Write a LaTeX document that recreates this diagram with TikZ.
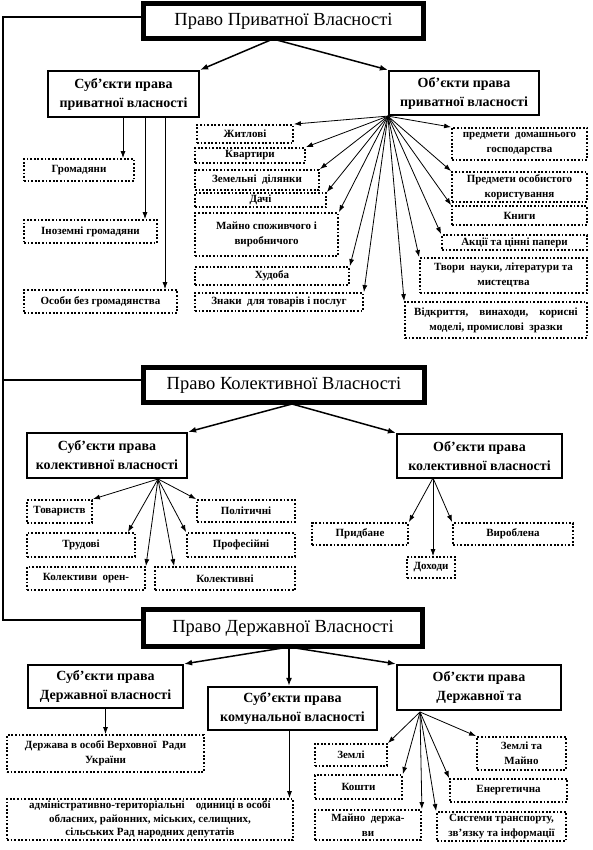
\documentclass[tikz,border=0pt]{standalone}
\usepackage{fontspec}
\setmainfont{Liberation Serif}
\usetikzlibrary{arrows.meta,calc}
\begin{document}
\begin{tikzpicture}[x=1pt,y=-1pt,
 titlebox/.style={draw, line width=3.5pt, font=\fontsize{18.5}{20}\selectfont, inner sep=0pt},
 headbox/.style={draw, line width=2.2pt, font=\fontsize{14}{19}\selectfont\bfseries, align=center, inner sep=0pt},
 dbox/.style={draw, line width=1.8pt, dash pattern=on 1.8pt off 1.8pt, font=\fontsize{11}{15}\selectfont\bfseries, align=center, inner sep=0pt},
 arr/.style={-{Latex[length=7pt,width=5pt]}, line width=0.8pt},
 bigarr/.style={-{Latex[length=8pt,width=6pt]}, line width=1.5pt},
 inner/.style={line width=1pt},
 frameline/.style={line width=2pt}]
\useasboundingbox (0,0) rectangle (592,850);
% ---------- titles
\node[titlebox, minimum width=281, minimum height=36] (t1) at (283.5,21) {Право Приватної Власності};
\node[titlebox, minimum width=282, minimum height=36] (t2) at (284,385) {Право Колективної Власності};
\node[titlebox, minimum width=280, minimum height=38] (t3) at (283,628) {Право Державної Власності};
\foreach \t in {t1,t2,t3}{
 \draw[inner] ($(\t.north west)+(4.5,4.5)$) rectangle ($(\t.south east)+(-4.5,-4.5)$);
}
\coordinate (L) at (3,0);
\draw[frameline] ([yshift=4pt]t1.west) -- ([yshift=4pt]t1.west -| L) -- ([yshift=8pt]t3.west -| L) -- ([yshift=8pt]t3.west);
\draw[frameline] ([yshift=5pt]t2.west -| L) -- ([yshift=5pt]t2.west);
% ---------- section 1
\node[headbox, minimum width=151, minimum height=46] (subjP) at (123.5,94) {Суб'єкти права\\приватної власності};
\node[headbox, minimum width=150, minimum height=44] (objP) at (464,93) {Об'єкти права\\приватної власності};
\coordinate (o1) at (273,39);
\draw[bigarr] (o1) -- (subjP.north east);
\draw[bigarr] (o1) -- (objP.north west);

\node[dbox, minimum width=110, minimum height=22] (gr) at (79,170) {Громадяни};
\node[dbox, minimum width=133, minimum height=23] (inoz) at (90.5,231.5) {Іноземні громадяни};
\node[dbox, minimum width=153, minimum height=23] (osoby) at (100.5,301.5) {Особи без громадянства};
\coordinate (s1) at ([xshift=-0.5pt]subjP.south);
\coordinate (s2) at ([xshift=21.5pt]subjP.south);
\coordinate (s3) at ([xshift=41.5pt]subjP.south);
\draw[arr] (s1) -- (s1 |- gr.north);
\draw[arr] (s2) -- (s2 |- inoz.north);
\draw[arr] (s3) -- (s3 |- osoby.north);

\node[dbox, minimum width=96, minimum height=18] (zhytl) at (245,134) {Житлові};
\node[dbox, minimum width=110, minimum height=15] (kvart) at (250,155.5) {Квартири};
\node[dbox, minimum width=124, minimum height=20] (zem) at (257,180) {Земельні\ \ ділянки};
\node[dbox, minimum width=131, minimum height=14] (dachi) at (260.5,200) {Дачі};
\node[dbox, minimum width=143, minimum height=43] (mayno) at (266.5,234.5) {Майно споживчого і\\виробничого};
\node[dbox, minimum width=154, minimum height=18] (hudoba) at (272,276) {Худоба};
\node[dbox, minimum width=168, minimum height=18] (znaky) at (279,302) {Знаки\ \ для товарів і послуг};
\node[dbox, minimum width=135, minimum height=32] (predDom) at (519.5,144) {предмети\ \ домашнього\\господарства};
\node[dbox, minimum width=135, minimum height=30] (predOs) at (519.5,187) {Предмети особистого\\користування};
\node[dbox, minimum width=135, minimum height=19] (knyhy) at (519.5,215.5) {Книги};
\node[dbox, minimum width=145, minimum height=15] (akcii) at (514.5,242.5) {Акції та цінні папери};
\node[dbox, minimum width=167, minimum height=35] (tvory) at (503.5,275.5) {Твори\ \ науки, літератури та\\мистецтва};
\node[dbox, minimum width=182, minimum height=36] (vidkr) at (496,320) {Відкриття,\quad винаходи,\quad корисні\\моделі, промислові\ \ зразки};
\coordinate (f1) at (objP.south west);
\foreach \n in {zhytl,kvart,zem,dachi,mayno,hudoba,znaky}{\draw[arr] (f1) -- (\n.north east);}
\foreach \n in {predDom,predOs,knyhy,akcii,tvory,vidkr}{\draw[arr] (f1) -- (\n.north west);}
% ---------- section 2
\node[headbox, minimum width=160, minimum height=45] (subjK) at (107,455.5) {Суб'єкти права\\колективної власності};
\node[headbox, minimum width=165, minimum height=44] (objK) at (479.5,456) {Об'єкти права\\колективної власності};
\coordinate (o2) at (292,404);
\draw[bigarr] (o2) -- (subjK.north east);
\draw[bigarr] (o2) -- (objK.north west);

\node[dbox, minimum width=65, minimum height=23] (tovar) at (59.5,511.5) {Товариств};
\node[dbox, minimum width=108, minimum height=24] (trud) at (81,545) {Трудові};
\node[dbox, minimum width=118, minimum height=23] (orend) at (86,578.5) {Колективи\ \ орен-};
\node[dbox, minimum width=140, minimum height=23] (kolekt) at (225,578.5) {Колективні};
\node[dbox, minimum width=108, minimum height=24] (prof) at (241,545) {Професійні};
\node[dbox, minimum width=98, minimum height=22] (polit) at (246,511) {Політичні};
\coordinate (f2) at (158,479);
\draw[arr] (f2) -- (tovar.north east);
\draw[arr] (f2) -- ([xshift=-8pt]trud.north east);
\draw[arr] (f2) -- (orend.north east);
\draw[arr] (f2) -- ([xshift=20pt]kolekt.north west);
\draw[arr] (f2) -- (prof.north west);
\draw[arr] (f2) -- (polit.north west);

\node[dbox, minimum width=96, minimum height=22] (prydb) at (360,534) {Придбане};
\node[dbox, minimum width=48, minimum height=21] (dohody) at (431,567.5) {Доходи};
\node[dbox, minimum width=120, minimum height=22] (vyrob) at (513,534) {Вироблена};
\coordinate (f3) at (433,478);
\draw[arr] (f3) -- (prydb.north east);
\draw[arr] (f3) -- (f3 |- dohody.north);
\draw[arr] (f3) -- (vyrob.north west);
% ---------- section 3
\node[headbox, minimum width=155, minimum height=43] (subjD) at (105.5,686.5) {Суб'єкти права\\Державної власності};
\node[headbox, minimum width=169, minimum height=43] (subjKom) at (292.5,708.5) {Суб'єкти права\\комунальної власності};
\node[headbox, minimum width=164, minimum height=45] (objD) at (479,687.5) {Об'єкти права\\Державної та};
\coordinate (o3) at (289,647);
\draw[bigarr] (o3) -- (subjD.north east);
\draw[bigarr] (o3) -- (o3 |- subjKom.north);
\draw[bigarr] (o3) -- (objD.north west);

\node[dbox, minimum width=197, minimum height=37] (derzh) at (105.5,753.5) {Держава в особі Верховної\ \ Ради\\України};
\node[dbox, minimum width=286, minimum height=41, font=\fontsize{11}{14}\selectfont\bfseries] (admin) at (150,819.5) {адміністративно-територіальні\quad одиниці в особі\\обласних,\ районних,\ міських,\ селищних,\\[-1pt]сільських Рад народних депутатів};
\draw[arr] (subjD.south) -- (subjD.south |- derzh.north);
\coordinate (s4) at ([xshift=-3pt]subjKom.south);
\draw[arr] (s4) -- (s4 |- admin.north);

\node[dbox, minimum width=72, minimum height=22] (zemli) at (351,755) {Землі};
\node[dbox, minimum width=87, minimum height=24] (koshty) at (358.5,787) {Кошти};
\node[dbox, minimum width=106, minimum height=30] (maynoD) at (368,825) {Майно\ \ держа-\\ви};
\node[dbox, minimum width=129, minimum height=29] (syst) at (501.5,826.5) {Системи транспорту,\\зв'язку та інформації};
\node[dbox, minimum width=117, minimum height=23] (energ) at (508.5,790.5) {Енергетична};
\node[dbox, minimum width=89, minimum height=33] (zemMay) at (521.5,753.5) {Землі та\\Майно};
\coordinate (f4) at (420,712);
\foreach \n in {zemli,koshty,maynoD}{\draw[arr] (f4) -- (\n.north east);}
\foreach \n in {syst,energ,zemMay}{\draw[arr] (f4) -- (\n.north west);}
\end{tikzpicture}
\end{document}
